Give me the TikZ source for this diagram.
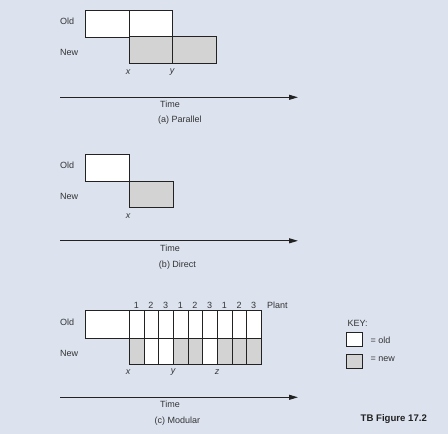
\documentclass[tikz,border=0pt]{standalone}
\usepackage{fontspec}
\setmainfont{Liberation Sans}
\usetikzlibrary{arrows.meta}
\definecolor{bg}{HTML}{DCE3EF}
\definecolor{newgray}{HTML}{D3D3D3}
\definecolor{ink}{HTML}{222222}
\definecolor{txt}{HTML}{333333}
\begin{document}
\begin{tikzpicture}[x=1pt,y=-1pt,
  cell/.style={draw=ink,line width=1.1pt,inner sep=0pt,anchor=north west},
  oldcell/.style={cell,fill=white},
  newcell/.style={cell,fill=newgray},
  lbl/.style={font=\fontsize{9}{11}\selectfont,text=txt,inner sep=0pt},
  varlbl/.style={lbl,font=\fontsize{9}{11}\selectfont\itshape},
  timeaxis/.style={draw=ink,line width=1.1pt,-{Triangle[length=9pt,width=5pt]}}]
\fill[bg] (0,0) rectangle (448,434);
\useasboundingbox (0,0) rectangle (448,434);

% ---------- (a) Parallel ----------
\node[lbl,anchor=west] (aold) at (60,21) {Old};
\node[lbl,anchor=west] (anew) at (60,52) {New};
\node[oldcell,minimum width=44pt,minimum height=27pt] (ao1) at (85,9.5) {};
\node[oldcell,minimum width=43pt,minimum height=27pt] (ao2) at (129,9.5) {};
\node[newcell,minimum width=43pt,minimum height=27pt] (an1) at (129,36.3) {};
\node[newcell,minimum width=44pt,minimum height=27pt] (an2) at (172,36.3) {};
\node[varlbl] (ax) at (128,72) {x};
\node[varlbl] (ay) at (172,72) {y};
\coordinate (as) at (60,97.3);
\coordinate (ae) at (298,97.3);
\draw[timeaxis] (as) -- (ae);
\node[lbl] (atime) at (170,104) {Time};
\node[lbl] (acap) at (180,120.5) {(a) Parallel};

% ---------- (b) Direct ----------
\node[lbl,anchor=west] (bold) at (60,165) {Old};
\node[lbl,anchor=west] (bnew) at (60,196.5) {New};
\node[oldcell,minimum width=44pt,minimum height=27pt] (bo1) at (85,154) {};
\node[newcell,minimum width=43.5pt,minimum height=26.5pt] (bn1) at (129,180.8) {};
\node[varlbl] (bx) at (128,216.5) {x};
\coordinate (bs) at (60,240.8);
\coordinate (be) at (298,240.8);
\draw[timeaxis] (bs) -- (be);
\node[lbl] (btime) at (170,248.5) {Time};
\node[lbl] (bcap) at (177.5,265.5) {(b) Direct};

% ---------- (c) Modular ----------
\node[lbl,anchor=west] (cold) at (60,322.3) {Old};
\node[lbl,anchor=west] (cnew) at (60,353.3) {New};
\node[oldcell,minimum width=44pt,minimum height=27.3pt] (co0) at (85,310.3) {};
\foreach \i/\n/\f in {0/1/newgray,1/2/white,2/3/white,3/1/newgray,4/2/newgray,5/3/white,6/1/newgray,7/2/newgray,8/3/newgray}{
  \node[oldcell,minimum width=14.667pt,minimum height=27.3pt] (co\i) at ({129+\i*14.667},310.3) {};
  \node[cell,fill=\f,minimum width=14.667pt,minimum height=26.3pt] (cn\i) at ({129+\i*14.667},337.6) {};
  \node[lbl] (cp\i) at ({129+(\i+0.5)*14.667},305) {\n};
}
\node[lbl,anchor=west] (cplant) at (267,305) {Plant};
\node[varlbl] (cx) at (128,372.5) {x};
\node[varlbl] (cy) at (173,372.5) {y};
\node[varlbl] (cz) at (217,372.5) {z};
\coordinate (cs) at (60,397.3);
\coordinate (ce) at (298,397.3);
\draw[timeaxis] (cs) -- (ce);
\node[lbl] (ctime) at (170,404.3) {Time};
\node[lbl] (ccap) at (177.5,421) {(c) Modular};

% ---------- Key ----------
\node[lbl,anchor=west] (key) at (347.5,323.3) {KEY:};
\node[oldcell,minimum width=15.5pt,minimum height=14pt] (kold) at (346.3,332.3) {};
\node[lbl,anchor=west] (koldt) at (370.5,340) {= old};
\node[newcell,minimum width=15.5pt,minimum height=14.5pt] (knew) at (346.3,353.5) {};
\node[lbl,anchor=west] (knewt) at (370.5,359.5) {= new};
\node[lbl,anchor=west,font=\fontsize{9.6}{11}\selectfont\bfseries,text=ink] (fig) at (360.5,419.3) {TB Figure 17.2};
\end{tikzpicture}
\end{document}
